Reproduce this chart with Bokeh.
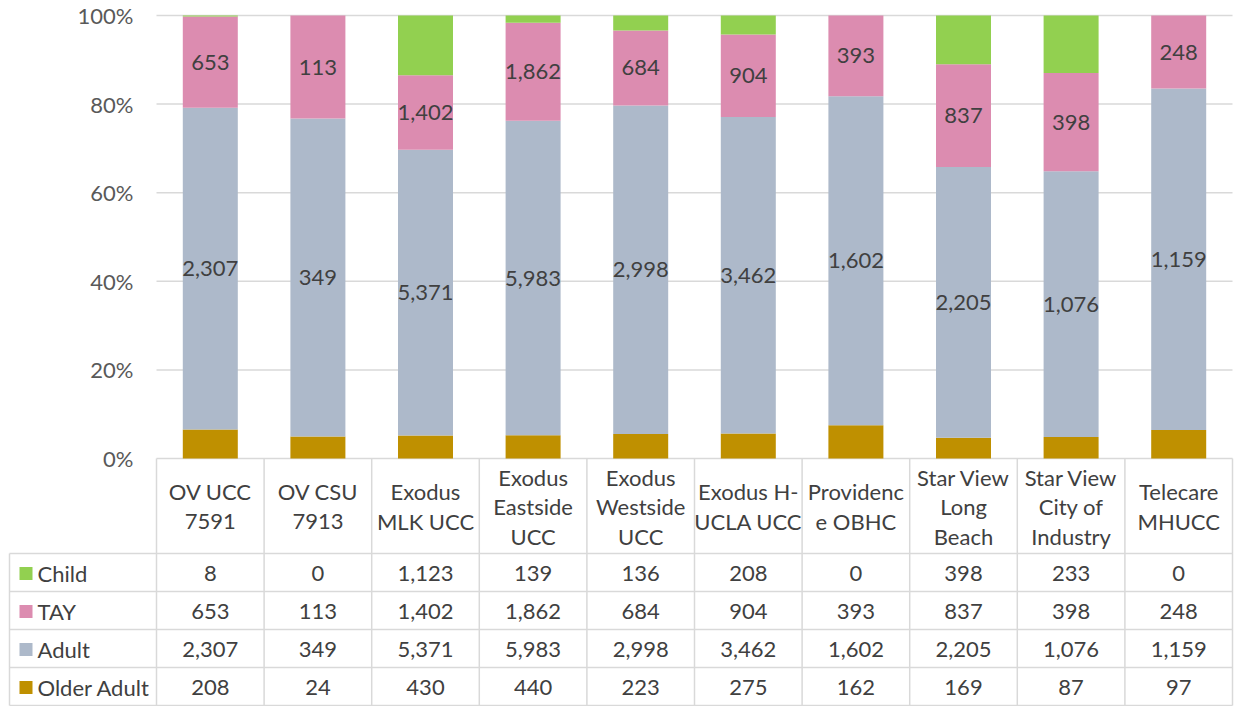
from bokeh.plotting import figure
from bokeh.models import Range1d
from bokeh.core.properties import value
from bokeh.embed import file_html
from bokeh.resources import INLINE
import numpy as np

# ---------------- data ----------------
categories = ["OV UCC\n7591", "OV CSU\n7913", "Exodus\nMLK UCC", "Exodus\nEastside\nUCC",
              "Exodus\nWestside\nUCC", "Exodus H-\nUCLA UCC", "Providenc\ne OBHC",
              "Star View\nLong\nBeach", "Star View\nCity of\nIndustry", "Telecare\nMHUCC"]
child = [8, 0, 1123, 139, 136, 208, 0, 398, 233, 0]
tay = [653, 113, 1402, 1862, 684, 904, 393, 837, 398, 248]
adult = [2307, 349, 5371, 5983, 2998, 3462, 1602, 2205, 1076, 1159]
older_adult = [208, 24, 430, 440, 223, 275, 162, 169, 87, 97]
series_names = ["Child", "TAY", "Adult", "Older Adult"]
series_colors = ["#92D050", "#DC8CB0", "#ADB9CA", "#BF9000"]
y_ticks = [0.0, 0.2, 0.4, 0.6, 0.8, 1.0]
y_tick_labels = ["0%", "20%", "40%", "60%", "80%", "100%"]

# ---------------- layout (pixel geometry) ----------------
W, H = 1235, 706
PX_X0, COLW = 156, 107.6        # pixel x of first column edge, column width
PX_Y0, PX_Y100 = 458, 15        # pixel y of 0% and 100%
SCALE_Y = PX_Y0 - PX_Y100       # pixels per 100%
HEADER_BOTTOM = 553
ROW_H = 38
LEFT_PX = 9

def xd(px):
    return (px - PX_X0) / COLW

def yd(py):
    return (PX_Y0 - py) / SCALE_Y

FONT = value("Lato")
FS = "22px"
TEXT_COLOR = "#404040"
GRID_COLOR = "#D9D9D9"

n = len(categories)
xs = np.arange(n) + 0.5
series = [np.array(child, float), np.array(tay, float), np.array(adult, float), np.array(older_adult, float)]
total = sum(series)
frac = {name: s / total for name, s in zip(series_names, series)}

# stacking order bottom->top: Older Adult, Adult, TAY, Child
stack_order = ["Older Adult", "Adult", "TAY", "Child"]
color_of = dict(zip(series_names, series_colors))
raw_of = dict(zip(series_names, series))

p = figure(width=W, height=H, output_backend="svg", toolbar_location=None,
           x_range=Range1d(xd(0), xd(W)), y_range=Range1d(yd(H), yd(0)),
           x_axis_type=None, y_axis_type=None, min_border=0)
p.grid.visible = False
p.outline_line_color = None
p.background_fill_color = "white"
p.border_fill_color = "white"

# gridlines
p.segment(x0=[0] * len(y_ticks), x1=[n] * len(y_ticks), y0=y_ticks, y1=y_ticks,
          line_color=GRID_COLOR, line_width=1.5)

# tick labels
p.text(x=[xd(133)] * len(y_ticks), y=y_ticks, text=y_tick_labels, text_font=FONT,
       text_font_size=FS, text_color="#595959", text_align="right", text_baseline="middle")

# bars
bottom = np.zeros(n)
for name in stack_order:
    top = bottom + frac[name]
    p.vbar(x=xs, width=55 / COLW, bottom=bottom, top=top, fill_color=color_of[name],
           line_color=None)
    if name in ("Adult", "TAY"):
        mid = (bottom + top) / 2
        p.text(x=xs, y=mid, text=["{:,}".format(int(v)) for v in raw_of[name]],
               text_font=FONT, text_font_size=FS, text_color=TEXT_COLOR,
               text_align="center", text_baseline="middle")
    bottom = top

# ---------------- data table ----------------
y_header_bot = yd(HEADER_BOTTOM)
row_edges = [HEADER_BOTTOM + ROW_H * i for i in range(5)]
row_edges[-1] = min(row_edges[-1], H - 1)
y_bottom = yd(row_edges[-1])
x_left = xd(LEFT_PX)

# vertical lines
p.segment(x0=list(range(n + 1)), x1=list(range(n + 1)), y0=[0] * (n + 1), y1=[y_bottom] * (n + 1),
          line_color=GRID_COLOR, line_width=1.5)
p.segment(x0=[x_left], x1=[x_left], y0=[y_header_bot], y1=[y_bottom],
          line_color=GRID_COLOR, line_width=1.5)
# horizontal lines
p.segment(x0=[x_left] * 5, x1=[n] * 5, y0=[yd(r) for r in row_edges], y1=[yd(r) for r in row_edges],
          line_color=GRID_COLOR, line_width=1.5)

# header (category names, multi-line, vertically centred)
LINE_PX = 29.5
hx, hy, ht = [], [], []
header_mid = (PX_Y0 + HEADER_BOTTOM) / 2 + 0.5
for i, cat in enumerate(categories):
    lines = cat.split("\n")
    k = len(lines)
    for j, ln in enumerate(lines):
        hx.append(i + 0.5)
        hy.append(yd(header_mid + (j - (k - 1) / 2) * LINE_PX))
        ht.append(ln)
p.text(x=hx, y=hy, text=ht, text_font=FONT, text_font_size=FS, text_color=TEXT_COLOR,
       text_align="center", text_baseline="middle")

# rows
for r, name in enumerate(series_names):
    cy = yd((row_edges[r] + row_edges[r + 1]) / 2 + 1)
    p.scatter(x=[xd(25.5)], y=[cy], marker="square", size=13, fill_color=color_of[name],
              line_color=None)
    p.text(x=[xd(37)], y=[cy], text=[name], text_font=FONT, text_font_size=FS,
           text_color=TEXT_COLOR, text_align="left", text_baseline="middle")
    p.text(x=xs, y=[cy] * n, text=["{:,}".format(int(v)) for v in raw_of[name]],
           text_font=FONT, text_font_size=FS, text_color=TEXT_COLOR,
           text_align="center", text_baseline="middle")

open("out.html", "w").write(file_html(p, INLINE))
